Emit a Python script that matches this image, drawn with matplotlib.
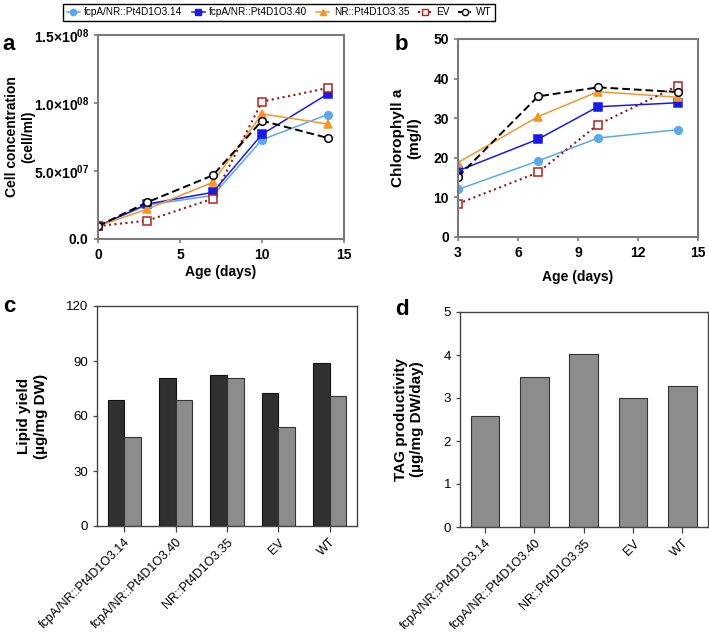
import numpy as np
import matplotlib
matplotlib.use("Agg")
import matplotlib.pyplot as plt
from matplotlib.lines import Line2D

plt.rcParams['font.family'] = ['Liberation Sans', 'DejaVu Sans']
plt.rcParams['mathtext.fontset'] = 'custom'
plt.rcParams['mathtext.rm'] = 'Liberation Sans'
plt.rcParams['mathtext.bf'] = 'Liberation Sans:bold'

# strains / series
strains = ['fcpA/NR::Pt4D1O3.14', 'fcpA/NR::Pt4D1O3.40', 'NR::Pt4D1O3.35', 'EV', 'WT']

# panel a: cell concentration (cells/ml)
days_a = [0, 3, 7, 10, 14]
cells_14 = [0.95e7, 2.5e7, 3.2e7, 7.3e7, 9.15e7]
cells_40 = [0.95e7, 2.57e7, 3.43e7, 7.7e7, 1.066e8]
cells_35 = [0.95e7, 2.2e7, 4.17e7, 9.2e7, 8.46e7]
cells_ev = [0.95e7, 1.35e7, 2.97e7, 1.01e8, 1.11e8]
cells_wt = [0.95e7, 2.7e7, 4.68e7, 8.7e7, 7.43e7]
cell_ticks = [0, 5e7, 1e8, 1.5e8]
cell_ticklabels = [r'$\mathbf{0.0}$', r'$\mathbf{5.0{\times}10^{07}}$',
                   r'$\mathbf{1.0{\times}10^{08}}$', r'$\mathbf{1.5{\times}10^{08}}$']

# panel b: chlorophyll a (mg/l)
days_b = [3, 7, 10, 14]
chl_14 = [12.0, 19.2, 25.0, 27.1]
chl_40 = [16.7, 24.7, 32.9, 33.9]
chl_35 = [18.8, 30.4, 36.7, 35.3]
chl_ev = [8.4, 16.3, 28.4, 38.2]
chl_wt = [15.2, 35.5, 37.8, 36.6]

# panel c: lipid yield (two bars per strain)
lipid_dark = [68.9, 80.8, 82.3, 72.7, 89.0]
lipid_gray = [48.8, 68.7, 80.5, 53.8, 70.9]

# panel d: TAG productivity
tag_prod = [2.57, 3.48, 4.02, 2.99, 3.29]

styles = [
    dict(color='#5ba8ec', ls='-', lw=1.1, marker='o', mfc='#5ba8ec', mec='#5ba8ec'),
    dict(color='#1a1ae6', ls='-', lw=1.1, marker='s', mfc='#1a1ae6', mec='#1a1ae6'),
    dict(color='#f5962a', ls='-', lw=1.1, marker='^', mfc='#f5962a', mec='#f5962a'),
    dict(color='#8b1a1a', ls=':', lw=1.5, marker='s', mfc='white', mec='#b22222'),
    dict(color='black', ls=(0, (4, 2)), lw=1.4, marker='o', mfc='white', mec='black'),
]

W, H = 709, 632
fig = plt.figure(figsize=(W / 100, H / 100), dpi=100)


def ax_at(left, top, right, bottom):
    return fig.add_axes([left / W, 1 - bottom / H, (right - left) / W, (bottom - top) / H])


def style_line_axes(ax):
    for s in ax.spines.values():
        s.set_color('#7a7a7a')
        s.set_linewidth(1.5)
    ax.tick_params(direction='out', length=3, width=1.2, color='#7a7a7a',
                   labelsize=10)
    for lab in ax.get_xticklabels() + ax.get_yticklabels():
        lab.set_fontweight('bold')


# ---- a ----
ax = ax_at(98, 35, 344, 239)
for vals, st in zip([cells_14, cells_40, cells_35, cells_ev, cells_wt], styles):
    ax.plot(days_a, vals, ms=5.5, mew=1.1, **st)
ax.set_xlim(0, 15)
ax.set_ylim(0, 1.5e8)
ax.set_xticks([0, 5, 10, 15])
ax.set_yticks(cell_ticks)
ax.set_yticklabels(cell_ticklabels)
style_line_axes(ax)
ax.set_xlabel('Age (days)', fontsize=10, fontweight='bold', labelpad=2)
ax.set_ylabel('Cell concentration\n(cell/ml)', fontsize=10, fontweight='bold')
ax.yaxis.set_label_coords(-0.255, 0.5)

# ---- b ----
ax = ax_at(458, 39, 698, 237)
for vals, st in zip([chl_14, chl_40, chl_35, chl_ev, chl_wt], styles):
    ax.plot(days_b, vals, ms=5.5, mew=1.1, **st)
ax.set_xlim(3, 15)
ax.set_ylim(0, 50)
ax.set_xticks([3, 6, 9, 12, 15])
ax.set_yticks([0, 10, 20, 30, 40, 50])
style_line_axes(ax)
ax.set_xlabel('Age (days)', fontsize=10, fontweight='bold', labelpad=7)
ax.set_ylabel('Chlorophyll a\n(mg/l)', fontsize=11, fontweight='bold', labelpad=9)


def style_bar_axes(ax):
    for s in ax.spines.values():
        s.set_color('#444444')
        s.set_linewidth(1.0)
    ax.tick_params(direction='out', length=3, width=0.9, color='#444444', labelsize=9.5)
    ax.tick_params(axis='x', length=4, labelsize=9)


# ---- c ----
ax = ax_at(97, 306, 357, 526)
x = np.arange(len(strains))
bw = 0.325
ax.bar(x - bw / 2, lipid_dark, bw, color='#303030', edgecolor='#111111', lw=0.8)
ax.bar(x + bw / 2, lipid_gray, bw, color='#8c8c8c', edgecolor='#333333', lw=0.8)
ax.set_xlim(-0.53, 4.53)
ax.set_ylim(0, 120)
ax.set_yticks([0, 30, 60, 90, 120])
ax.set_xticks(x)
ax.set_xticklabels(strains, rotation=45, ha='right', rotation_mode='anchor')
style_bar_axes(ax)
ax.set_ylabel('Lipid yield\n(µg/mg DW)', fontsize=11, fontweight='bold', labelpad=13)

# ---- d ----
ax = ax_at(460, 312, 708, 527)
ax.bar(x, tag_prod, 0.58, color='#8c8c8c', edgecolor='#333333', lw=0.8)
ax.set_xlim(-0.51, 4.52)
ax.set_ylim(0, 5)
ax.set_yticks([0, 1, 2, 3, 4, 5])
ax.set_xticks(x)
ax.set_xticklabels(strains, rotation=45, ha='right', rotation_mode='anchor')
style_bar_axes(ax)
ax.set_ylabel('TAG productivity\n(µg/mg DW/day)', fontsize=11, fontweight='bold', labelpad=14)

# panel letters
for lab, px, py in [('a', 2, 50), ('b', 395, 50), ('c', 3, 312), ('d', 395, 315)]:
    fig.text(px / W, 1 - py / H, lab, fontsize=16, fontweight='bold', va='baseline')

# legend
handles = [Line2D([0], [0], ms=4.5, mew=1.0, **st) for st in styles]
fig.legend(handles, strains, loc='center', bbox_to_anchor=(279 / W, 1 - 12 / H),
           ncol=5, fontsize=7.2, frameon=True, fancybox=False, edgecolor='black',
           handlelength=1.3, handletextpad=0.45, columnspacing=0.9,
           borderpad=0.35, framealpha=1)

fig.savefig('out.png', dpi=100)
